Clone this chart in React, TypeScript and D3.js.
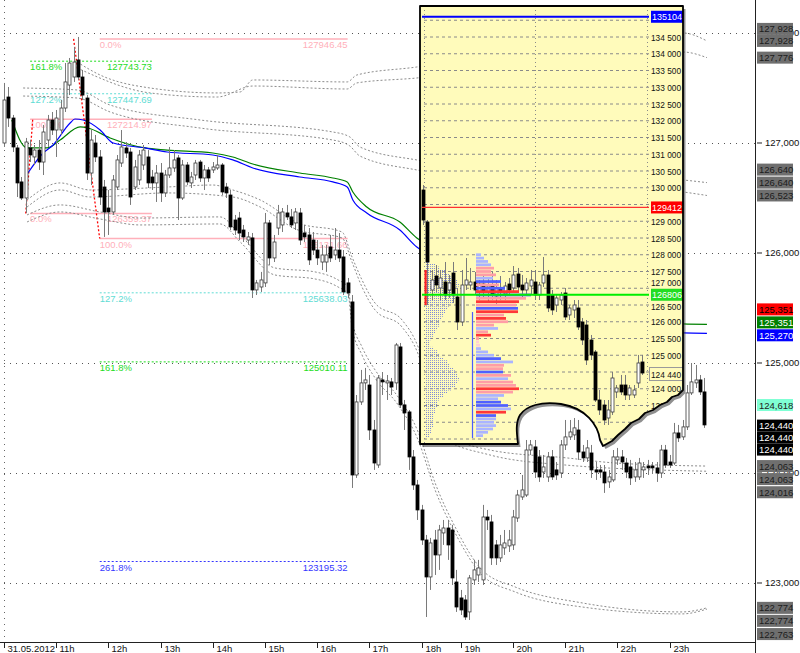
import React from 'react'
import * as d3 from 'd3'

const FONT = "'Liberation Sans', Arial, Helvetica, sans-serif"

// time axis (5 min bars, 31.05.2012)
const hourTickIdx = [0, 12, 24, 36, 48, 60, 72, 84, 96, 105, 117, 129, 141, 153]
const hourLabels = ['31.05.2012', '11h', '12h', '13h', '14h', '15h', '16h', '17h', '18h', '19h', '20h', '21h', '22h', '23h']
const gridPrices = [128000, 127000, 126000, 125000, 124000, 123000]

// main bars: [open, high, low, close]
const bars: number[][] = [
  [127000, 127546, 126964, 127391], [127418, 127509, 127146, 127227], [127227, 127255, 126918, 126964],
  [126955, 126982, 126509, 126637], [126646, 126691, 126482, 126500], [126500, 127046, 126364, 127009],
  [126955, 127027, 126827, 126891], [126873, 126982, 126800, 126936], [126936, 127027, 126755, 126827],
  [126827, 127164, 126709, 127100], [127027, 127255, 126964, 127209], [127209, 127282, 127073, 127118],
  [127118, 127300, 126873, 127227], [127118, 127391, 127073, 127318], [127318, 127727, 127282, 127555],
  [127527, 127773, 127436, 127727], [127600, 127873, 127555, 127736], [127755, 127964, 127573, 127600],
  [127600, 127664, 127391, 127436], [127409, 127436, 126664, 126727], [126727, 127118, 126618, 127027],
  [127000, 127073, 126827, 126873], [126873, 126936, 126437, 126509], [126600, 126664, 126146, 126373],
  [126409, 126573, 126164, 126373], [126373, 126709, 126346, 126664], [126600, 126891, 126573, 126846],
  [126818, 127118, 126782, 126964], [126955, 127009, 126864, 126909], [126918, 126955, 126437, 126509],
  [126600, 126846, 126573, 126782], [126664, 126936, 126618, 126891], [126800, 126982, 126755, 126936],
  [126873, 126936, 126591, 126637], [126691, 126755, 126573, 126637], [126637, 126800, 126464, 126727],
  [126727, 126818, 126464, 126546], [126546, 126755, 126509, 126709], [126709, 126964, 126682, 126773],
  [126773, 126936, 126737, 126846], [126864, 126891, 126300, 126500], [126500, 126846, 126482, 126800],
  [126800, 126827, 126618, 126646], [126637, 126737, 126591, 126691], [126709, 126846, 126664, 126818],
  [126827, 126846, 126646, 126682], [126682, 126800, 126573, 126755], [126755, 126782, 126646, 126682],
  [126755, 126827, 126727, 126782], [126773, 126891, 126755, 126800], [126800, 126818, 126527, 126555],
  [126600, 126637, 126500, 126546], [126527, 126573, 126209, 126237], [126300, 126346, 126164, 126209],
  [126318, 126373, 126118, 126182], [126209, 126255, 126100, 126146], [126118, 126191, 126073, 126146],
  [126137, 126182, 125591, 125664], [125664, 125755, 125618, 125728], [125691, 125828, 125646, 125755],
  [125728, 126364, 125691, 126273], [126273, 126300, 125891, 125955], [125955, 126164, 125918, 126100],
  [126227, 126437, 126164, 126364], [126255, 126409, 126191, 126373], [126364, 126437, 126300, 126328],
  [126328, 126400, 126227, 126255], [126273, 126409, 126209, 126373], [126364, 126409, 126073, 126118],
  [126182, 126255, 126100, 126146], [126164, 126227, 125891, 125937], [126118, 126191, 125982, 126027],
  [126027, 126118, 125891, 125955], [125918, 126073, 125845, 125982], [125918, 126073, 125828, 125982],
  [126055, 126164, 125918, 125955], [125982, 126227, 125937, 126027], [126027, 126182, 125918, 125955],
  [125964, 126027, 125618, 125646], [125728, 125773, 125591, 125637], [125555, 125618, 123864, 123982],
  [123982, 124709, 123955, 124646], [124646, 124937, 124619, 124819], [124819, 124955, 124755, 124846],
  [124800, 124891, 124300, 124391], [124391, 124482, 124028, 124091], [124073, 124891, 124046, 124864],
  [124846, 124918, 124709, 124828], [124819, 124891, 124664, 124837], [124828, 124864, 124709, 124782],
  [124819, 125182, 124755, 125164], [125146, 125182, 124591, 124619], [124619, 124664, 124391, 124546],
  [124555, 124573, 124028, 124146], [124146, 124209, 123846, 123891], [123891, 123937, 123573, 123664],
  [123664, 123710, 123346, 123391], [123391, 123437, 122691, 123055], [123055, 123410, 122937, 123364],
  [123391, 123482, 123073, 123255], [123255, 123528, 123119, 123482], [123455, 123573, 123346, 123500],
  [123500, 123573, 123210, 123346], [123482, 123528, 122982, 123046], [123009, 123119, 122737, 122782],
  [122864, 122937, 122709, 122755], [122846, 122891, 122664, 122691], [122737, 123073, 122664, 123046],
  [123028, 123210, 122982, 123119], [123073, 123210, 123009, 123137], [123028, 123710, 122982, 123600],
  [123600, 123664, 123482, 123573], [123555, 123619, 123164, 123228], [123346, 123391, 123164, 123228],
  [123228, 123437, 123191, 123346], [123319, 123482, 123255, 123364], [123337, 123482, 123282, 123391],
  [123346, 123664, 123300, 123600], [123591, 123846, 123555, 123800], [123782, 123982, 123755, 123846],
  [123800, 124300, 123782, 124209], [124209, 124300, 124164, 124255], [124237, 124300, 123955, 124009],
  [124146, 124209, 123919, 123964], [124009, 124164, 123955, 124055], [123964, 124191, 123919, 124146],
  [124146, 124209, 123937, 123964], [124028, 124100, 123937, 123982], [124000, 124300, 123955, 124255],
  [124255, 124482, 124209, 124328], [124328, 124482, 124300, 124373], [124346, 124500, 124300, 124410],
  [124391, 124482, 124119, 124191], [124191, 124255, 124100, 124137], [124137, 124300, 124100, 124228],
  [124182, 124255, 123955, 124028], [124028, 124100, 123937, 124009], [124028, 124073, 123955, 124009],
  [124009, 124073, 123819, 123910], [123919, 124028, 123864, 123964], [123937, 124209, 123919, 124146],
  [124119, 124228, 124073, 124146], [124146, 124209, 124028, 124100], [124091, 124137, 123955, 124009],
  [124055, 124119, 123891, 123955], [123964, 124100, 123919, 124028], [123964, 124137, 123937, 124091],
  [124028, 124100, 123955, 124055], [124064, 124119, 123982, 124046], [124064, 124100, 123991, 124046],
  [124046, 124100, 123919, 124000], [124000, 124255, 123955, 124209], [124209, 124255, 124046, 124073],
  [124100, 124164, 124046, 124073], [124091, 124455, 124073, 124364], [124364, 124437, 124282, 124319],
  [124328, 124482, 124300, 124419], [124419, 124800, 124391, 124728], [124728, 125000, 124709, 124828],
  [124819, 124982, 124773, 124846], [124846, 124891, 124709, 124737], [124737, 124864, 124410, 124437],
]

// moving averages [barIndex, price]
const maBlue = [
  [5.5, 126727], [9, 126909], [11.3, 126982], [15.2, 127182], [16.3, 127218], [18.2, 127209], [22.1, 127118],
  [25.1, 127000], [32.4, 126955], [37.5, 126918], [48, 126891], [52.6, 126846], [57.2, 126773], [68, 126691],
  [75.6, 126646], [78.9, 126600], [80.2, 126482], [83.4, 126364], [91, 126209], [94.9, 126055], [125, 125600],
  [156.1, 125273], [161.6, 125270],
]
const maGreen = [
  [1.8, 127209], [5.3, 126955], [9.9, 126955], [12.9, 127027], [17.5, 127146], [19.3, 127136], [24.4, 127046],
  [32.4, 126955], [37.5, 126936], [48, 126909], [52.6, 126873], [57.2, 126809], [68, 126727], [75.6, 126682],
  [78.9, 126646], [80.2, 126555], [83.4, 126418], [91, 126282], [94.9, 126137], [125, 125680],
  [156.1, 125355], [161.6, 125351],
]

// envelope bands [barIndex, price]
const bandA1 = [[16.8, 127736], [22.1, 127618], [33.6, 127500], [49, 127455], [54.3, 127464], [57.2, 127573], [78.9, 127555], [81.1, 127618], [94.9, 127691], [125, 127900], [156.1, 128000], [161.6, 127928]]
const bandA2 = [[16.8, 127682], [33.6, 127455], [49, 127418], [57.2, 127518], [78.9, 127491], [81.1, 127546], [94.9, 127591], [125, 127760], [156.1, 127827], [161.6, 127776]]
const bandB1 = [[4.4, 127500], [16.8, 127482], [24.4, 127345], [45.1, 127209], [75.6, 127100], [79.5, 127055], [81.8, 126964], [94.9, 126846], [125, 126740], [156.1, 126664], [161.6, 126640]]
const bandB2 = [[4.4, 127427], [16.8, 127409], [24.4, 127282], [45.1, 127136], [75.6, 127027], [79.5, 126973], [81.8, 126882], [94.9, 126755], [125, 126640], [156.1, 126555], [161.6, 126523]]
const bandC1 = [[5.3, 126482], [12.9, 126637], [19.8, 126573], [37.5, 126600], [48, 126618], [52.6, 126573], [58.9, 126482], [67.6, 126273], [77.7, 126191], [80, 125964], [82.3, 125755], [85.3, 125545], [91.5, 125391], [95.2, 125146], [100.2, 124391], [111.7, 124209], [129.4, 124137], [140.5, 124091], [161.6, 124063]]
const bandC2 = [[5.3, 126418], [12.9, 126573], [19.8, 126509], [37.5, 126546], [52.6, 126509], [58.9, 126418], [67.6, 126209], [77.7, 126137], [80, 125918], [82.3, 125691], [85.3, 125482], [91.5, 125327], [95.2, 125082], [100.2, 124337], [111.7, 124164], [128.9, 124073], [161.6, 124016]]
const bandD1 = [[5.3, 126346], [12.9, 126437], [22.1, 126373], [31.3, 126318], [49.7, 126328], [54.3, 126164], [62.3, 125864], [71.5, 125828], [76.8, 125755], [79.1, 125691], [80, 125391], [82.3, 125146], [85.3, 124937], [90.6, 124691], [95.2, 124373], [99.1, 123910], [103.7, 123510], [109.9, 123119], [117.5, 122964], [132.9, 122819], [155.9, 122737], [161.6, 122774]]
const bandD2 = [[5.3, 126282], [12.9, 126373], [22.1, 126309], [31.3, 126255], [49.7, 126264], [54.3, 126100], [62.3, 125800], [71.5, 125764], [76.8, 125691], [79.1, 125627], [80, 125327], [82.3, 125073], [85.3, 124864], [90.6, 124619], [95.2, 124300], [99.1, 123846], [103.7, 123455], [109.9, 123073], [117.5, 122919], [132.9, 122782], [155.9, 122719], [161.6, 122763]]

// fibonacci tools
const fibALevels = ['0.0%', '100.0%', '127.2%', '161.8%']
const fibAValues = [126359.37, 127214.97, 127447.69, 127743.73]
const fibASpan = [6, 34]
const fibATrend = [[5, 126359.37], [6.6, 127214.97]]
const fibBLevels = ['0.0%', '100.0%', '127.2%', '161.8%', '261.8%']
const fibBValues = [127946.45, 126131.66, 125638.03, 125010.11, 123195.32]
const fibBSpan = [22, 79]
const fibBTrend = [[16, 127946.45], [22, 126131.66]]

// right price tags
const tagValues = [127928, 127928, 127776, 126640, 126640, 126523, 125351, 125351, 125270, 124618, 124440, 124440, 124440, 124063, 124063, 124016, 122774, 122774, 122763]
const tagKinds = ['gray', 'gray', 'gray', 'gray', 'gray', 'gray', 'red', 'green', 'blue', 'aqua', 'black', 'black', 'black', 'gray', 'gray', 'gray', 'gray', 'gray', 'gray']

// inset (other instrument) bars [open, high, low, close]
const insetBars: number[][] = [
  [129933, 130082, 128888, 129037], [128978, 129037, 126500, 127784], [126948, 127545, 126649, 127246],
  [127366, 127694, 126888, 127097], [127008, 127545, 126649, 127306], [127187, 127784, 126649, 126799],
  [126948, 127396, 126709, 127157], [127455, 127784, 126560, 126799], [126739, 127008, 125754, 125993],
  [125993, 127545, 125873, 127097], [127097, 127903, 126948, 127246], [127097, 127605, 126948, 127187],
  [127187, 127485, 126799, 126948], [126888, 127246, 126649, 127127], [127127, 127396, 126709, 126888],
  [126888, 127306, 126590, 127067], [127067, 127485, 126649, 126829], [126769, 127246, 126500, 127008],
  [127008, 127366, 126649, 126888], [126829, 127187, 126649, 127067], [127127, 127306, 126769, 126948],
  [127008, 127664, 126888, 127396], [127425, 127605, 126888, 127037], [127097, 127396, 126709, 126948],
  [126948, 127306, 126769, 127157], [127067, 127545, 126829, 127246], [127187, 127545, 126649, 126799],
  [126799, 127187, 126649, 127097], [127157, 127933, 127037, 127396], [127396, 127545, 126291, 126411],
  [126799, 126948, 126202, 126351], [126500, 126799, 126291, 126709], [126649, 126888, 126500, 126799],
  [126858, 127008, 126052, 126142], [126202, 126500, 126052, 126411], [126351, 126649, 126112, 126500],
  [126411, 126649, 125754, 125843], [125993, 126112, 125306, 125455], [125903, 126052, 124709, 124858],
  [125455, 125605, 124858, 125008], [125097, 125157, 123605, 123664], [123664, 123963, 123217, 123366],
  [123515, 123664, 122918, 123067], [123127, 123664, 122918, 123366], [123306, 124500, 123217, 124321],
  [123903, 124112, 123724, 124023], [124112, 124411, 123814, 123903], [124112, 124411, 123664, 123814],
  [123814, 124112, 123664, 124023], [123814, 124112, 123724, 123963], [124172, 125008, 124023, 124769],
  [124799, 125008, 124411, 124470],
]
const insetAxisTop = 135000
const insetAxisBottom = 122500
const insetLines = [135104, 129412, 126806]
const insetLineKinds = ['blue', 'red', 'lime']
const insetLastPrice = 124440
// volume profile, 100-point rows from 128 000 downwards
const profileTop = 128000
const volWidths = [5, 8, 12, 15, 18, 15, 20, 17, 25, 23, 29, 43, 55, 50, 43, 40, 42, 42, 28, 30, 32, 18, 22, 12, 15, 3, 3, 4, 5, 12, 18, 25, 37, 28, 27, 27, 35, 32, 37, 40, 43, 37, 28, 22, 25, 32, 35, 30, 20, 20, 18, 20, 17, 12, 7]
const volKinds = 'llllppplbpbrbprpbrprpplprpqqlllblppbplpprpllbblrbllllll'.split('')
const tpoWidths = [0, 0, 5, 10, 15, 20, 25, 30, 32, 35, 32, 28, 30, 32, 28, 25, 22, 20, 18, 16, 15, 14, 12, 10, 8, 6, 5, 5, 8, 12, 15, 18, 22, 25, 28, 30, 33, 35, 33, 30, 26, 22, 18, 15, 13, 12, 10, 10, 9, 9, 8, 8, 7, 6, 5]
const openRange = [126500, 127545]
const valueArea = [122530, 126290]

// ---- styles
const pink = '#ffb0ba'
const fibColor: Record<string, string> = { '0.0%': pink, '100.0%': pink, '127.2%': '#5fdcd4', '161.8%': '#1edc1e', '261.8%': '#3636ff' }
const tagStyle: Record<string, [string, string]> = {
  gray: ['#6f6f6f', '#1c1c1c'], red: ['#ff0000', '#000'], green: ['#008000', '#fff'],
  blue: ['#0000ff', '#fff'], aqua: ['#7fffd4', '#222'], black: ['#000', '#fff'],
}
const tagNudge = [-12, 0, 0, -13, 0, 0, -15, -2, 2, 0, 1, 13, 25, 0, 13, 21, 0, 13, 25]
const volColor: Record<string, string> = { l: '#aab4ff', p: '#ff9da6', b: '#5060ff', r: '#ff3838', q: '#ffd0d4' }
const insetLineColor: Record<string, string> = { blue: '#0000ff', red: '#ff3030', lime: '#00ee00' }
const insetTagColor: Record<string, string> = { blue: '#0000ff', red: '#ff0000', lime: '#22dd22' }
const INSET_BG = '#fffbbb'

const x = d3.scaleLinear().domain([0, 161]).range([4, 704.35])
const y = d3.scaleLinear().domain([122463.6, 128300]).range([642, 0])
const ix = d3.scaleLinear().domain([0, 51]).range([423, 642.3])
const iy = d3.scaleLinear().domain([122500, 134500]).range([439, 37])

const lineGen = d3.line<number[]>().x(d => x(d[0])).y(d => y(d[1])).curve(d3.curveMonotoneX)
const fmtAxis = (v: number) => d3.format(',')(v)
const fmtInset = (v: number) => d3.format(',')(v).replace(',', ' ')

const insetShape = 'M420,6 H683 V390 L678,395 L672,397 L667,402 L660,405 L653,410 L645,413 L639,419 L631,423 L625,429 L618,435 L612,441 L603,446 L600,440 C598,425 586,408 561,404 C541,401 526,406 520,415 C515,423 517,435 518,444 L420,444 Z'

function Candle({ d, cx, sy }: { d: number[]; cx: number; sy: (v: number) => number }) {
  const [o, h, l, c] = d
  const up = c >= o
  const top = sy(Math.max(o, c))
  const bot = sy(Math.min(o, c))
  return (
    <g>
      <line x1={cx} x2={cx} y1={sy(h)} y2={sy(l)} stroke="#7a7a7a" strokeWidth={1} />
      <rect x={cx - 1.5} y={top} width={3} height={Math.max(bot - top, 1)}
        fill={up ? '#fff' : '#000'} stroke={up ? '#3a3a3a' : '#000'} strokeWidth={0.8} />
    </g>
  )
}

function Fib({ levels, values, span, trend }: { levels: string[]; values: number[]; span: number[]; trend: number[][] }) {
  const x0 = x(span[0]), x1 = x(span[1])
  return (
    <g>
      {levels.map((lv, i) => {
        const yy = y(values[i])
        const solid = lv === '0.0%' || lv === '100.0%'
        return (
          <g key={lv}>
            <line x1={x0} x2={x1} y1={yy} y2={yy} stroke={fibColor[lv]} strokeWidth={solid ? 1.5 : 1}
              strokeDasharray={solid ? undefined : '2,2'} />
            <text x={x0} y={yy + 9} fill={fibColor[lv]} fontSize={9.5}>{lv}</text>
            <text x={x1} y={yy + 9} fill={fibColor[lv]} fontSize={9.5} textAnchor="end">{values[i].toFixed(2)}</text>
          </g>
        )
      })}
      <line x1={x(trend[0][0])} y1={y(trend[0][1])} x2={x(trend[1][0])} y2={y(trend[1][1])}
        stroke="#ff0000" strokeWidth={1.3} strokeDasharray="2,2" />
    </g>
  )
}

// inset axis labels step aside from the coloured price tags
function insetLabelY(p: number): number | null {
  const yy = iy(p)
  const tagYs = [...insetLines, insetLastPrice].map(v => iy(v))
  for (const ty of tagYs) {
    const dy = yy - ty
    if (Math.abs(dy) < 5) return null
    if (Math.abs(dy) < 12) return ty + Math.sign(dy) * 12
  }
  return yy
}

export default function App() {
  const bands = [bandA1, bandA2, bandB1, bandB2, bandC1, bandC2, bandD1, bandD2]
  const insetGrid = d3.range(insetAxisBottom, insetAxisTop + 1, 500)
  const rowH = iy(0) - iy(100)
  return (
    <svg width={800} height={653} style={{ position: 'absolute', left: 0, top: 0, background: '#fff' }}
      fontFamily={FONT}>
      <defs>
        <clipPath id="insetClip"><path d={insetShape} /></clipPath>
        <pattern id="tpo" width={2} height={2} patternUnits="userSpaceOnUse">
          <rect width={1} height={1} fill="#7d8ad8" />
        </pattern>
      </defs>

      {/* grid */}
      <line x1={4.5} x2={4.5} y1={0} y2={642} stroke="#666" strokeDasharray="1,5" />
      {gridPrices.map(p => (
        <line key={p} x1={4} x2={755} y1={Math.round(y(p)) + 0.5} y2={Math.round(y(p)) + 0.5}
          stroke="#555" strokeDasharray="1,5" />
      ))}

      <Fib levels={fibALevels} values={fibAValues} span={fibASpan} trend={fibATrend} />
      <Fib levels={fibBLevels} values={fibBValues} span={fibBSpan} trend={fibBTrend} />

      {bands.map((b, i) => (
        <path key={i} d={lineGen(b) || ''} fill="none" stroke="#8c8c8c" strokeWidth={1} strokeDasharray="2,2" />
      ))}
      <path d={lineGen(maGreen) || ''} fill="none" stroke="#008000" strokeWidth={1.2} />
      <path d={lineGen(maBlue) || ''} fill="none" stroke="#0000ff" strokeWidth={1.2} />

      {bars.map((d, i) => <Candle key={i} d={d} cx={Math.round(x(i)) + 0.5} sy={y} />)}

      {/* inset */}
      <path d={insetShape} transform="translate(2.5,3)" fill="#333" opacity={0.55} />
      <path d={insetShape} fill={INSET_BG} />
      <g clipPath="url(#insetClip)">
        {insetGrid.map(p => {
          const ly = insetLabelY(p)
          return (
            <g key={p}>
              <line x1={424} x2={650} y1={iy(p)} y2={iy(p)} stroke="#8a8a8a" strokeDasharray="3,3" />
              {ly !== null && (
                <text x={651} y={ly + 3.5} fontSize={9.5} fill="#111" textLength={30} lengthAdjust="spacingAndGlyphs">
                  {fmtInset(p)}
                </text>
              )}
            </g>
          )
        })}
        {[424.5, 535.5, 647.5].map(v => (
          <line key={v} x1={v} x2={v} y1={6} y2={444} stroke="#8a8a8a" strokeDasharray="1,3" />
        ))}
        {tpoWidths.map((w, k) => w > 0 && (
          <rect key={k} x={425} y={iy(profileTop - k * 100) - rowH / 2} width={w} height={rowH} fill="url(#tpo)" />
        ))}
        <rect x={424.5} y={iy(openRange[1])} width={2.2} height={iy(openRange[0]) - iy(openRange[1])} fill="#ff2020" />
        {insetBars.map((d, j) => <Candle key={j} d={d} cx={Math.round(ix(j)) + 0.5} sy={iy} />)}
        {volWidths.map((w, k) => (
          <rect key={k} x={476} y={iy(profileTop - k * 100) - rowH / 2 + 0.3} width={w} height={rowH - 0.6}
            fill={volColor[volKinds[k]]} />
        ))}
        <line x1={472.5} x2={472.5} y1={iy(valueArea[1])} y2={iy(valueArea[0])} stroke="#4a5cff" strokeWidth={1.2} />
        {insetLines.map((p, i) => (
          <g key={p}>
            <line x1={422} x2={649} y1={iy(p)} y2={iy(p)} stroke={insetLineColor[insetLineKinds[i]]}
              strokeWidth={i === 1 ? 1.3 : 2} />
            <rect x={651} y={iy(p) - 6} width={32} height={12} fill={insetTagColor[insetLineKinds[i]]} />
            <text x={652} y={iy(p) + 3.5} fontSize={9.5} fill="#fff" textLength={30} lengthAdjust="spacingAndGlyphs">{p}</text>
          </g>
        ))}
        <rect x={649.5} y={iy(insetLastPrice) - 6.5} width={34} height={13} fill={INSET_BG} stroke="#9a9a9a" />
        <text x={651} y={iy(insetLastPrice) + 3.5} fontSize={9.5} fill="#111" textLength={30} lengthAdjust="spacingAndGlyphs">
          {fmtInset(insetLastPrice)}
        </text>
      </g>
      <path d={insetShape} fill="none" stroke="#000" strokeWidth={1.8} strokeLinejoin="round" />

      {/* right axis */}
      <line x1={755.5} x2={755.5} y1={0} y2={653} stroke="#222" />
      {gridPrices.map(p => (
        <g key={p}>
          <line x1={757} x2={762} y1={y(p)} y2={y(p)} stroke="#222" />
          <text x={765} y={y(p) + 3.5} fontSize={9.5} fill="#111">{fmtAxis(p)}</text>
        </g>
      ))}
      {tagValues.map((v, i) => {
        const [bg, fg] = tagStyle[tagKinds[i]]
        const cy = y(v) + tagNudge[i]
        return (
          <g key={i}>
            <rect x={757} y={cy - 6} width={36} height={12} fill={bg} />
            <text x={759} y={cy + 3.5} fontSize={9.5} fill={fg}>{fmtAxis(v)}</text>
          </g>
        )
      })}

      {/* time axis */}
      <line x1={0} x2={755} y1={642.5} y2={642.5} stroke="#222" />
      {hourTickIdx.map((t, i) => {
        const tx = Math.round(x(t)) + 0.5
        return (
          <g key={t}>
            <line x1={tx} x2={tx} y1={642} y2={648} stroke="#222" />
            <text x={tx + 3} y={652} fontSize={9.5} fill="#111">{hourLabels[i]}</text>
          </g>
        )
      })}
    </svg>
  )
}
